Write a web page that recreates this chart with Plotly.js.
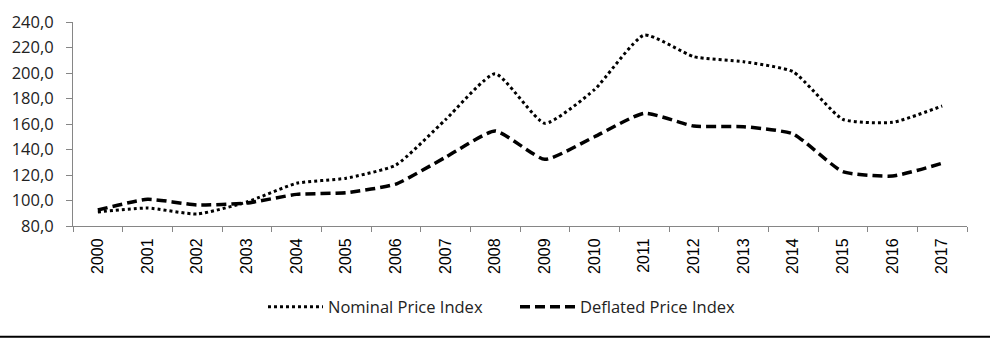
<!DOCTYPE html>
<html>
<head>
<meta charset="utf-8">
<script src="https://cdn.plot.ly/plotly-3.0.1.min.js"></script>
<style>
html,body{margin:0;padding:0;background:#fff;}
#chart{width:990px;height:338px;}
</style>
</head>
<body>
<div id="chart"></div>
<script>
const years = ["2000","2001","2002","2003","2004","2005","2006","2007","2008","2009","2010","2011","2012","2013","2014","2015","2016","2017"];
const nominal = [91.0, 94.1, 89.4, 98.8, 113.5, 117.5, 127.8, 163.4, 199.5, 160.5, 187.0, 229.8, 212.8, 208.9, 201.0, 163.7, 161.3, 174.1];
const deflated = [92.5, 100.9, 96.5, 98.0, 104.8, 106.1, 112.9, 133.9, 154.5, 132.3, 150.0, 168.4, 158.4, 157.9, 152.2, 122.6, 119.2, 129.2];
const yTicks = [80, 100, 120, 140, 160, 180, 200, 220, 240];

const traces = [
  {x: years, y: nominal, type: 'scatter', mode: 'lines', name: 'Nominal Price Index',
   line: {color: '#000', width: 3, dash: '3px,3px', shape: 'spline', smoothing: 0.5}},
  {x: years, y: deflated, type: 'scatter', mode: 'lines', name: 'Deflated Price Index',
   line: {color: '#000', width: 3.5, dash: '10px,5px', shape: 'spline', smoothing: 0.5}}
];

const layout = {
  width: 990, height: 338,
  margin: {l: 73, r: 23, t: 22, b: 112},
  paper_bgcolor: '#fff', plot_bgcolor: '#fff',
  separators: ', ',
  showlegend: true,
  legend: {orientation: 'h', x: 0.2125, xanchor: 'left', y: -0.397, yanchor: 'middle',
           font: {family: 'Open Sans, sans-serif', size: 16.5, color: '#222'},
           itemwidth: 55, entrywidth: 182, entrywidthmode: 'pixels'},
  xaxis: {type: 'category', range: [-0.5, 17.5], showgrid: false, zeroline: false,
          showline: true, linecolor: '#868686', linewidth: 1,
          ticks: 'outside', ticklen: 5, tickcolor: '#868686', tickson: 'boundaries',
          ticklabelstandoff: 5,
          tickangle: -90, tickfont: {family: 'Liberation Sans, Arial, sans-serif', size: 16, color: '#000'}},
  yaxis: {range: [80, 240], tickvals: yTicks, tickformat: '.1f', showgrid: false, zeroline: false,
          showline: true, linecolor: '#868686', linewidth: 1,
          ticks: 'outside', ticklen: 6, tickcolor: '#868686', ticklabelstandoff: 9,
          tickfont: {family: 'Open Sans, sans-serif', size: 16.5, color: '#222'}},
  shapes: [{type: 'line', xref: 'paper', yref: 'paper', x0: -0.09, x1: 1.03, y0: -0.543, y1: -0.543,
            line: {color: '#000', width: 2}}]
};

Plotly.newPlot('chart', traces, layout, {displayModeBar: false, staticPlot: true});
</script>
</body>
</html>
